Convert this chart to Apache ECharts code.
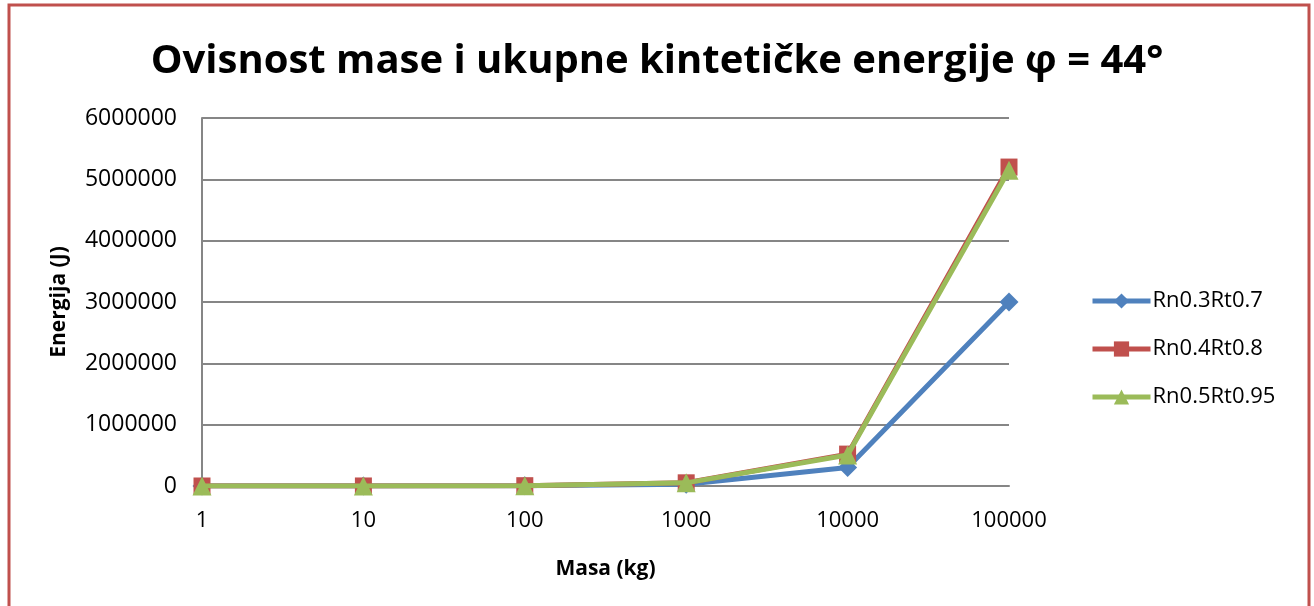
<!DOCTYPE html>
<html>
<head>
<meta charset="utf-8">
<script src="https://cdn.jsdelivr.net/npm/echarts@6/dist/echarts.min.js"></script>
<style>
  html, body { margin: 0; padding: 0; background: #fff; }
  #box { width: 1314px; height: 606px; }
</style>
</head>
<body>
<div id="box"></div>
<script>
var masses = ['1', '10', '100', '1000', '10000', '100000'];
var seriesNames = ['Rn0.3Rt0.7', 'Rn0.4Rt0.8', 'Rn0.5Rt0.95'];
var rn03 = [30, 300, 3000, 30000, 300000, 3000000];
var rn04 = [52, 520, 5200, 52000, 520000, 5200000];
var rn05 = [51, 510, 5100, 51000, 505000, 5150000];
var colors = ['#4F81BD', '#C0504D', '#9BBB59'];
var symbols = ['diamond', 'rect', 'triangle'];

window.onload = function () {
    var myChart = echarts.init(document.getElementById('box'));
    var font = '"Open Sans", sans-serif';
    var allData = [rn03, rn04, rn05];

    var series = [];
    for (var i = 0; i < allData.length; i++) {
        series.push({
            name: seriesNames[i],
            type: 'line',
            data: allData[i],
            symbol: symbols[i],
            symbolSize: i === 1 ? 17 : 19,
            showAllSymbol: true,
            lineStyle: { width: 5, color: colors[i] },
            itemStyle: { color: colors[i] },
            z: 2 + i
        });
    }

    var option = {
        animation: false,
        color: colors,
        title: {
            text: 'Ovisnost mase i ukupne kintetičke energije φ = 44°',
            left: 'center',
            top: 37,
            textStyle: { fontFamily: font, fontWeight: 'bold', fontSize: 40, color: '#000' }
        },
        graphic: [{
            type: 'rect',
            shape: { x: 9, y: 5, width: 1300, height: 700 },
            style: { fill: 'none', stroke: '#C0504D', lineWidth: 3 },
            silent: true
        }],
        legend: {
            orient: 'vertical',
            left: 1085,
            top: 285,
            itemGap: 26,
            itemWidth: 58,
            itemHeight: 19,
            lineStyle: { width: 5 },
            textStyle: { fontFamily: font, fontSize: 22, color: '#000', padding: [0, 0, 0, -3] },
            data: seriesNames
        },
        grid: {
            left: 202,
            right: 305,
            top: 118,
            bottom: 120,
            containLabel: false
        },
        xAxis: {
            type: 'category',
            data: masses,
            boundaryGap: false,
            name: 'Masa (kg)',
            nameLocation: 'middle',
            nameGap: 73,
            nameTextStyle: { fontFamily: font, fontWeight: 'bold', fontSize: 21, color: '#000' },
            axisLine: { lineStyle: { color: '#868686', width: 2 } },
            axisTick: { show: false },
            axisLabel: { fontFamily: font, fontSize: 22, color: '#000', margin: 24 },
            splitLine: { show: false }
        },
        yAxis: {
            type: 'value',
            min: 0,
            max: 6000000,
            interval: 1000000,
            name: 'Energija (J)',
            nameLocation: 'middle',
            nameGap: 132,
            nameTextStyle: { fontFamily: font, fontWeight: 'bold', fontSize: 21, color: '#000' },
            axisLine: { show: true, lineStyle: { color: '#868686', width: 2 } },
            axisTick: { show: false },
            axisLabel: {
                fontFamily: font, fontSize: 23, color: '#000', margin: 25,
                formatter: function (v) { return String(v); }
            },
            splitLine: { lineStyle: { color: '#868686', width: 2 } }
        },
        series: series
    };
    myChart.setOption(option);
    window.addEventListener('resize', function () {
        myChart.resize();
    });
};
</script>
</body>
</html>
